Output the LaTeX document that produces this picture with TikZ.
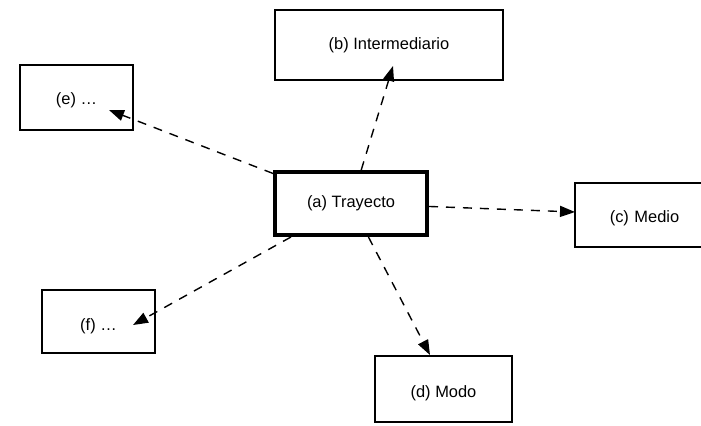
\documentclass[tikz,border=0pt]{standalone}
\usepackage{fontspec}
\setmainfont{Liberation Sans}
\usetikzlibrary{arrows.meta}
% lower a label inside its box without changing the box size
\newcommand{\lowered}[2]{\raisebox{-#1}[\height][\depth]{#2}}
\begin{document}
\begin{tikzpicture}[x=1bp,y=-1bp,
  box/.style={draw, line width=1.1bp, rectangle, inner sep=0pt,
    font=\fontsize{16.5}{19}\selectfont},
  mainbox/.style={box, line width=4bp},
  link/.style={line width=1.4bp, dash pattern=on 9bp off 8bp,
    -{Triangle[length=15bp,width=11bp]}}]
  \useasboundingbox (0,0) rectangle (701,425);

  % boxes: centre, size
  \node[mainbox, minimum width=152bp, minimum height=63bp] (a) at (351,203.5) {(a) Trayecto};
  \node[box, minimum width=228bp, minimum height=70bp] (b) at (389,45) {(b) Intermediario};
  \node[box, minimum width=129bp, minimum height=64bp, text width=120bp, align=center] (c) at (639.5,215) {\hspace*{10bp}\lowered{3bp}{(c) Medio}};
  \node[box, minimum width=137bp, minimum height=66bp] (d) at (443.5,389) {\lowered{4bp}{(d) Modo}};
  \node[box, minimum width=113bp, minimum height=65bp] (e) at (76.5,97.5) {\lowered{3bp}{(e) \dots}};
  \node[box, minimum width=113bp, minimum height=63bp] (f) at (98.5,321.5) {\lowered{5bp}{(f) \dots}};

  % arrow tips that land on or inside the boxes
  \coordinate (tb) at (393,66);
  \coordinate (tc) at (575,212);
  \coordinate (td) at (430,355);
  \coordinate (te) at (109,110);
  \coordinate (tf) at (133,325);

  \draw[link] (a) -- (tb);
  \draw[link] (a) -- (tc);
  \draw[link] (a) -- (td);
  \draw[link] (a) -- (te);
  \draw[link] (a) -- (tf);
\end{tikzpicture}
\end{document}
